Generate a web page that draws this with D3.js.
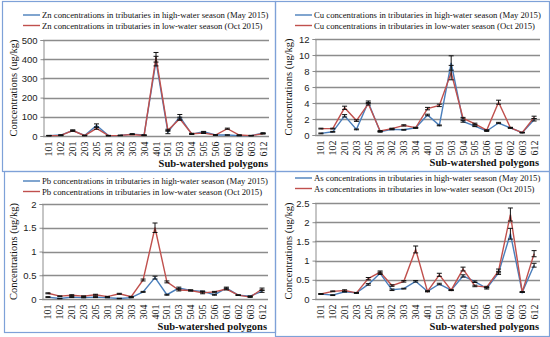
<!DOCTYPE html>
<style>
    body { margin: 0; background: #fff; }
    svg { display: block; }
</style>
<body>
<svg width="550" height="337" id="chart"></svg>
<script src="https://d3js.org/d3.v7.min.js"></script>
<script>

    // sub-watershed polygons (x categories)
    var polygons = ["101","102","201","203","205","301","302","303","304","401","501","503","504","505","506","601","602","603","612"];

    // Zn
    var znHigh = [2, 5, 28, 3, 55, 2, 3, 10, 5, 390, 20, 100, 10, 22, 5, 5, 2, 2, 15];
    var znLow  = [2, 3, 28, 2, 40, 2, 3, 8, 3, 410, 30, 90, 12, 15, 5, 38, 5, 2, 12];
    var znHighErr = [1, 1, 3, 1, 8, 1, 1, 2, 1, 25, 8, 12, 2, 2, 1, 1, 1, 1, 2];
    var znLowErr  = [1, 1, 3, 1, 5, 1, 1, 1, 1, 25, 5, 8, 2, 2, 1, 3, 1, 1, 2];
    var znTicks = [0, 100, 200, 300, 400, 500];

    // Cu
    var cuHigh = [0.2, 0.4, 2.4, 0.7, 4.1, 0.4, 0.7, 0.65, 0.9, 2.5, 1.2, 9.0, 1.7, 1.1, 0.5, 1.5, 0.9, 0.3, 1.9];
    var cuLow  = [0.8, 0.8, 3.4, 1.8, 3.9, 0.5, 0.8, 1.2, 0.9, 3.3, 3.7, 7.8, 2.1, 1.4, 0.6, 4.1, 0.9, 0.3, 2.2];
    var cuHighErr = [0.05, 0.05, 0.15, 0.05, 0.15, 0.05, 0.05, 0.05, 0.05, 0.1, 0.05, 0.9, 0.1, 0.05, 0.05, 0.08, 0.05, 0.03, 0.15];
    var cuLowErr  = [0.05, 0.05, 0.2, 0.1, 0.15, 0.05, 0.05, 0.08, 0.05, 0.15, 0.15, 0.9, 0.1, 0.08, 0.05, 0.25, 0.05, 0.03, 0.15];
    var cuTicks = [0, 2, 4, 6, 8, 10, 12];

    // Pb
    var pbHigh = [0.04, 0.01, 0.04, 0.03, 0.04, 0.03, 0.01, 0.03, 0.15, 0.45, 0.09, 0.23, 0.18, 0.16, 0.09, 0.23, 0.08, 0.06, 0.16];
    var pbLow  = [0.12, 0.06, 0.08, 0.06, 0.09, 0.05, 0.11, 0.05, 0.40, 1.50, 0.36, 0.19, 0.18, 0.13, 0.15, 0.21, 0.08, 0.04, 0.21];
    var pbHighErr = [0.01, 0.005, 0.01, 0.005, 0.01, 0.005, 0.005, 0.005, 0.01, 0.03, 0.01, 0.02, 0.01, 0.01, 0.01, 0.02, 0.005, 0.005, 0.02];
    var pbLowErr  = [0.01, 0.005, 0.01, 0.005, 0.01, 0.005, 0.01, 0.005, 0.02, 0.10, 0.02, 0.02, 0.01, 0.02, 0.01, 0.02, 0.005, 0.005, 0.02];
    var pbTicks = [0, 0.5, 1, 1.5, 2];

    // As
    var asHigh = [0.13, 0.10, 0.19, 0.16, 0.38, 0.67, 0.24, 0.27, 0.46, 0.20, 0.39, 0.23, 0.60, 0.45, 0.28, 0.68, 1.70, 0.18, 0.88];
    var asLow  = [0.13, 0.20, 0.22, 0.16, 0.53, 0.70, 0.35, 0.46, 1.29, 0.20, 0.63, 0.23, 0.78, 0.34, 0.31, 0.73, 2.20, 0.18, 1.18];
    var asHighErr = [0.01, 0.01, 0.01, 0.01, 0.02, 0.03, 0.02, 0.01, 0.02, 0.01, 0.02, 0.01, 0.03, 0.02, 0.02, 0.04, 0.14, 0.01, 0.05];
    var asLowErr  = [0.01, 0.01, 0.02, 0.01, 0.03, 0.03, 0.02, 0.02, 0.09, 0.01, 0.04, 0.01, 0.05, 0.02, 0.02, 0.05, 0.17, 0.01, 0.08];
    var asTicks = [0, 0.5, 1, 1.5, 2, 2.5];

    var blue = "#4a7ebb", red = "#c0504d";
    var serif = "'Liberation Serif', 'Times New Roman', serif";

    var svg = d3.select("svg");

    // panel frames
    var frames = [[2, 1, 273, 170], [275, 1, 274, 170], [4, 171, 271, 161], [275, 171, 274, 165]];
    svg.selectAll("rect.frame").data(frames).enter().append("rect")
        .attr("class", "frame")
        .attr("x", function(d) { return d[0] + 0.5; })
        .attr("y", function(d) { return d[1] + 0.5; })
        .attr("width", function(d) { return d[2]; })
        .attr("height", function(d) { return d[3]; })
        .attr("fill", "none")
        .attr("stroke", "#7ea1d8")
        .attr("stroke-width", 1.2);

    function panel(p) {
        var g = svg.append("g");

        var x = d3.scaleBand().domain(polygons).range([p.x0, p.x1]);
        var y = d3.scaleLinear().domain([0, p.ticks[p.ticks.length - 1]]).range([p.y1, p.y0]);

        // gridlines
        g.append("g").selectAll("line").data(p.ticks).enter().append("line")
            .attr("x1", p.x0).attr("x2", p.x1)
            .attr("y1", function(d) { return Math.round(y(d)) + 0.5; })
            .attr("y2", function(d) { return Math.round(y(d)) + 0.5; })
            .attr("stroke", "#8c8c8c")
            .attr("stroke-width", 1.3);

        // y axis
        var ya = g.append("g")
            .attr("transform", "translate(" + (p.x0 + 0.5) + ",0)")
            .call(d3.axisLeft(y).tickValues(p.ticks).tickSize(3).tickPadding(3).tickFormat(d3.format("")));
        ya.select(".domain").attr("stroke", "#8c8c8c");
        ya.selectAll(".tick line").attr("stroke", "#8c8c8c");
        ya.selectAll("text").attr("font-family", "'Liberation Sans', Arial, sans-serif")
            .attr("font-size", "9.5px").attr("fill", "#222");

        // x axis labels
        var xa = g.append("g")
            .attr("transform", "translate(0," + (p.y1 + 0.5) + ")")
            .call(d3.axisBottom(x).tickSize(0).tickPadding(0));
        xa.select(".domain").remove();
        xa.selectAll("text")
            .attr("font-family", serif)
            .attr("font-size", "10px")
            .attr("fill", "#111")
            .attr("text-anchor", "end")
            .attr("transform", "translate(0,5) rotate(-90)")
            .attr("x", 0).attr("y", 0).attr("dy", "0.35em");

        var line = d3.line()
            .x(function(d, i) { return x(polygons[i]) + x.bandwidth() / 2; })
            .y(function(d) { return y(d); });

        p.series.forEach(function(s) {
            g.append("path")
                .datum(s.values)
                .attr("fill", "none")
                .attr("stroke", s.color)
                .attr("stroke-width", 1.4)
                .attr("d", line);
        });

        // error bars
        p.series.forEach(function(s) {
            var eb = g.append("g").selectAll("g").data(s.values).enter().append("g")
                .attr("stroke", "#111").attr("stroke-width", 1);
            eb.append("line")
                .attr("x1", function(d, i) { return x(polygons[i]) + x.bandwidth() / 2; })
                .attr("x2", function(d, i) { return x(polygons[i]) + x.bandwidth() / 2; })
                .attr("y1", function(d, i) { return y(d - s.err[i]); })
                .attr("y2", function(d, i) { return y(d + s.err[i]); });
            [1, -1].forEach(function(sign) {
                eb.append("line")
                    .attr("x1", function(d, i) { return x(polygons[i]) + x.bandwidth() / 2 - 2.5; })
                    .attr("x2", function(d, i) { return x(polygons[i]) + x.bandwidth() / 2 + 2.5; })
                    .attr("y1", function(d, i) { return y(d + sign * s.err[i]); })
                    .attr("y2", function(d, i) { return y(d + sign * s.err[i]); });
            });
        });

        // legend
        var lg = g.append("g").selectAll("g").data(p.series).enter().append("g")
            .attr("transform", function(d, i) { return "translate(" + p.lx + "," + (p.ly + i * 10.5) + ")"; });
        lg.append("line").attr("x1", 0).attr("x2", 17)
            .attr("stroke", function(d) { return d.color; }).attr("stroke-width", 1.4);
        lg.append("text")
            .attr("x", 19).attr("dy", "0.35em")
            .attr("font-family", serif).attr("font-size", "8.7px").attr("fill", "#111")
            .text(function(d) { return d.name; });

        // axis titles
        g.append("text")
            .attr("transform", "translate(" + p.tx + "," + ((p.y0 + p.y1) / 2) + ") rotate(-90)")
            .attr("text-anchor", "middle").attr("dy", "0.35em")
            .attr("font-family", serif).attr("font-size", "10.5px").attr("fill", "#111")
            .text("Concentrations (ug/kg)");

        g.append("text")
            .attr("x", p.x1 - 1).attr("y", p.y1 + 31)
            .attr("text-anchor", "end")
            .attr("font-family", serif).attr("font-size", "10.5px").attr("font-weight", "bold").attr("fill", "#111")
            .text("Sub-watershed polygons");
    }

    function seriesFor(el, hi, lo, hiErr, loErr) {
        return [
            {name: el + " concentrations in tributaries in high-water season (May 2015)", color: blue, values: hi, err: hiErr},
            {name: el + " concentrations in tributaries in low-water season (Oct 2015)", color: red, values: lo, err: loErr}
        ];
    }

    panel({x0: 43, x1: 269, y0: 40, y1: 136, lx: 23, ly: 15, tx: 13, ticks: znTicks,
        series: seriesFor("Zn", znHigh, znLow, znHighErr, znLowErr)});
    panel({x0: 315, x1: 540, y0: 39, y1: 135, lx: 295, ly: 15, tx: 288, ticks: cuTicks,
        series: seriesFor("Cu", cuHigh, cuLow, cuHighErr, cuLowErr)});
    panel({x0: 42, x1: 268, y0: 204, y1: 299, lx: 23, ly: 181, tx: 13, ticks: pbTicks,
        series: seriesFor("Pb", pbHigh, pbLow, pbHighErr, pbLowErr)});
    panel({x0: 315, x1: 540, y0: 203, y1: 299, lx: 295, ly: 178, tx: 288, ticks: asTicks,
        series: seriesFor("As", asHigh, asLow, asHighErr, asLowErr)});

</script>
</body>
